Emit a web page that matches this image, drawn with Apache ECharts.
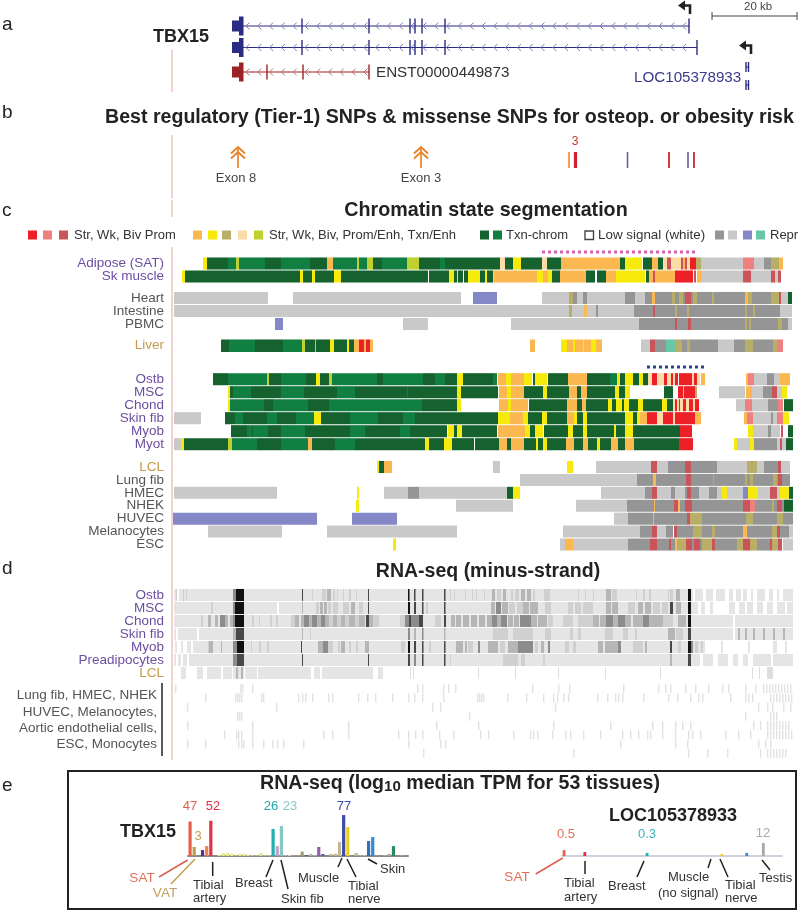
<!DOCTYPE html>
<html>
<head>
<meta charset="utf-8">
<script src="https://cdn.jsdelivr.net/npm/echarts@6/dist/echarts.min.js"></script>
<style>
  html, body { margin: 0; background: #fff; }
  #main { width: 800px; height: 911px; }
</style>
</head>
<body>
<div id="main"></div>
<script>
// positions along the locus are in track units (0 = left edge of the tracks, about 4.25 units per kb)

// chromatin states
const stateColors = {
  S: '#ee2027', W: '#ef8080', B: '#c9555a',
  O: '#fbb850', Y: '#f6ea0a', K: '#b9ae68', L: '#fbdba6', E: '#bfd12f',
  D: '#16622f', G: '#117f41',
  M: '#959595', N: '#c9c9c9', P: '#8488c6', T: '#67c7a8'
};

const adiposeSat = [[30,34,'Y'],[34,55,'D'],[55,63,'G'],[63,66,'E'],[66,92,'G'],[92,108,'D'],[108,137,'G'],[137,154,'D'],[154,160,'O'],[160,184,'G'],[184,186,'E'],[186,194,'G'],[194,200,'E'],[200,209,'D'],[209,234,'G'],[234,246,'E'],[246,267,'D'],[267,272,'G'],[272,327,'D'],[327,332,'L'],[332,340,'D'],[340,348,'Y'],[348,369,'D'],[369,374,'L'],[374,388,'D'],[388,447,'O'],[447,452,'D'],[452,469,'Y'],[470,479,'D'],[479,485,'O'],[485,490,'D'],[490,494,'L'],[494,498,'B'],[498,508,'L'],[508,510,'B'],[510,512,'O'],[512,514,'B'],[514,517,'L'],[517,523,'S'],[523,528,'K'],[528,570,'N'],[570,581,'W'],[581,591,'N'],[591,598,'M'],[598,606,'K'],[606,610,'O']];
const skMuscle = [[9,12,'Y'],[12,127,'D'],[127,130,'Y'],[130,139,'D'],[139,142,'Y'],[142,161,'D'],[161,168,'Y'],[168,255,'D'],[256,276,'D'],[276,281,'Y'],[281,284,'D'],[284,285,'Y'],[285,290,'D'],[291,295,'D'],[295,307,'Y'],[307,312,'D'],[312,314,'Y'],[314,320,'D'],[320,321,'Y'],[321,364,'O'],[364,370,'Y'],[370,375,'O'],[375,379,'Y'],[379,387,'D'],[387,413,'O'],[413,422,'D'],[424,433,'D'],[433,443,'O'],[443,472,'Y'],[473,476,'D'],[476,480,'O'],[480,482,'B'],[482,502,'O'],[502,520,'S'],[521,523,'B'],[524,529,'O'],[529,570,'N'],[570,578,'B'],[578,598,'N'],[598,602,'B'],[602,605,'N'],[605,608,'B']];

const heart = [[1,95,'N'],[120,288,'N'],[300,324,'P'],[369,396,'N'],[396,400,'K'],[400,404,'M'],[404,410,'N'],[410,414,'M'],[414,452,'N'],[452,462,'M'],[462,472,'N'],[472,479,'M'],[479,482,'O'],[482,499,'M'],[499,502,'K'],[502,506,'M'],[506,510,'K'],[510,512,'M'],[512,518,'B'],[518,520,'M'],[520,524,'K'],[524,539,'M'],[539,541,'K'],[541,572,'M'],[572,575,'O'],[575,579,'K'],[579,598,'M'],[598,606,'K'],[606,608,'B'],[608,615,'N'],[615,619,'D']];
const intestine = [[1,396,'N'],[396,399,'K'],[399,411,'N'],[411,414,'O'],[414,423,'N'],[423,425,'M'],[425,461,'N'],[461,480,'M'],[480,482,'B'],[482,502,'M'],[502,504,'K'],[504,514,'M'],[514,516,'K'],[516,572,'M'],[572,574,'K'],[574,580,'M'],[580,582,'K'],[582,607,'M'],[607,619,'N']];
const pbmc = [[102,110,'P'],[230,255,'N'],[338,466,'N'],[466,502,'M'],[502,504,'B'],[504,515,'M'],[515,518,'B'],[518,572,'M'],[572,574,'K'],[574,576,'M'],[576,578,'K'],[578,605,'M'],[605,609,'K'],[609,615,'M'],[615,619,'N']];

const liver = [[48,56,'D'],[56,82,'G'],[82,110,'D'],[110,129,'G'],[129,132,'E'],[132,142,'D'],[142,143,'E'],[143,157,'D'],[157,161,'Y'],[161,174,'D'],[174,176,'Y'],[176,181,'D'],[181,186,'O'],[186,191,'S'],[191,193,'O'],[193,197,'S'],[197,200,'O'],[357,362,'O'],[388,394,'Y'],[394,400,'O'],[400,402,'Y'],[402,410,'O'],[410,411,'Y'],[411,418,'O'],[418,423,'Y'],[423,429,'O'],[468,477,'N'],[477,482,'B'],[482,493,'M'],[493,502,'T'],[502,509,'K'],[509,514,'M'],[514,517,'K'],[517,545,'M'],[545,561,'N'],[561,572,'M'],[572,580,'K'],[580,600,'M'],[600,604,'K'],[604,610,'W']];

const ostb = [[40,55,'D'],[55,94,'G'],[94,96,'E'],[96,108,'D'],[108,133,'G'],[133,143,'D'],[143,147,'Y'],[147,156,'D'],[156,159,'E'],[159,204,'G'],[204,210,'D'],[210,250,'G'],[250,262,'D'],[262,272,'G'],[272,284,'D'],[284,290,'Y'],[290,320,'D'],[320,324,'G'],[325,333,'O'],[333,338,'Y'],[338,351,'O'],[351,359,'Y'],[360,362,'D'],[362,374,'Y'],[375,395,'D'],[395,414,'O'],[414,437,'D'],[437,444,'G'],[444,447,'Y'],[447,452,'D'],[452,460,'Y'],[460,466,'D'],[466,470,'Y'],[470,475,'D'],[475,479,'L'],[479,484,'S'],[484,491,'L'],[491,494,'S'],[494,498,'L'],[498,500,'S'],[500,502,'L'],[502,505,'S'],[506,519,'S'],[519,521,'L'],[521,524,'S'],[524,527,'L'],[528,532,'O'],[573,575,'O'],[575,581,'W'],[581,594,'N'],[594,601,'M'],[601,607,'N'],[607,610,'O'],[610,617,'O']];
const msc = [[55,57,'Y'],[57,60,'D'],[60,78,'G'],[78,108,'D'],[108,131,'G'],[131,164,'D'],[164,182,'G'],[182,234,'D'],[234,235,'G'],[235,284,'D'],[284,288,'Y'],[288,325,'D'],[326,334,'O'],[334,338,'Y'],[338,351,'O'],[351,370,'D'],[370,374,'Y'],[374,396,'D'],[396,404,'O'],[404,408,'D'],[408,414,'O'],[414,442,'D'],[442,446,'Y'],[446,452,'D'],[452,457,'Y'],[491,500,'D'],[505,510,'S'],[510,511,'O'],[511,522,'S'],[522,524,'K'],[546,572,'N'],[573,579,'O'],[579,590,'N'],[590,599,'M'],[599,604,'B'],[604,609,'N'],[609,614,'Y']];
const chond = [[55,57,'Y'],[57,91,'G'],[91,100,'D'],[100,135,'G'],[135,156,'D'],[156,249,'G'],[249,270,'D'],[270,284,'D'],[284,288,'Y'],[326,335,'O'],[335,338,'Y'],[338,355,'O'],[356,394,'D'],[394,404,'O'],[404,409,'D'],[409,413,'O'],[413,435,'D'],[435,439,'Y'],[439,443,'D'],[443,449,'Y'],[449,451,'D'],[451,456,'Y'],[456,465,'D'],[465,470,'Y'],[470,489,'D'],[489,494,'Y'],[494,500,'D'],[500,502,'L'],[502,504,'S'],[504,506,'L'],[506,507,'S'],[507,510,'L'],[510,513,'S'],[513,516,'L'],[516,520,'S'],[520,522,'L'],[522,526,'S'],[563,572,'N'],[572,579,'W'],[579,595,'N'],[595,605,'M'],[605,610,'W'],[611,620,'D']];
const skinFib = [[1,28,'N'],[52,62,'D'],[62,70,'G'],[70,94,'D'],[94,104,'G'],[104,123,'D'],[123,141,'G'],[141,148,'Y'],[148,177,'D'],[177,205,'G'],[205,230,'D'],[230,242,'G'],[242,325,'D'],[325,337,'Y'],[337,350,'O'],[350,355,'Y'],[355,369,'D'],[369,374,'Y'],[374,394,'D'],[394,401,'O'],[401,404,'Y'],[404,410,'D'],[410,414,'Y'],[414,452,'D'],[452,460,'Y'],[460,464,'D'],[464,467,'Y'],[467,474,'O'],[474,484,'S'],[484,490,'L'],[490,500,'S'],[500,502,'L'],[502,522,'S'],[522,528,'O'],[571,574,'O'],[574,580,'W'],[580,598,'N'],[598,600,'M'],[600,604,'N'],[604,610,'W'],[610,616,'Y']];
const myob = [[58,74,'D'],[74,79,'G'],[79,80,'D'],[80,95,'G'],[95,108,'D'],[108,132,'G'],[132,177,'D'],[177,192,'G'],[192,227,'D'],[227,237,'G'],[237,274,'D'],[275,281,'Y'],[281,284,'D'],[284,289,'Y'],[289,324,'D'],[325,352,'O'],[352,357,'Y'],[357,362,'D'],[362,370,'Y'],[371,395,'D'],[395,400,'Y'],[400,410,'D'],[410,414,'Y'],[414,441,'D'],[441,443,'Y'],[443,452,'D'],[452,460,'Y'],[460,507,'D'],[507,519,'S'],[575,580,'Y'],[580,595,'N'],[595,598,'M'],[598,607,'N'],[608,610,'B'],[615,620,'D']];
const myot = [[1,8,'N'],[8,11,'Y'],[11,55,'D'],[55,59,'E'],[59,84,'G'],[84,108,'D'],[108,135,'G'],[135,139,'O'],[139,162,'D'],[162,182,'G'],[182,252,'D'],[252,256,'Y'],[256,271,'D'],[271,279,'Y'],[279,301,'D'],[302,326,'D'],[326,334,'O'],[334,338,'D'],[338,351,'O'],[351,354,'D'],[354,363,'D'],[363,365,'Y'],[365,370,'D'],[370,374,'Y'],[374,393,'D'],[393,401,'O'],[401,410,'D'],[410,415,'O'],[415,424,'D'],[424,427,'Y'],[427,438,'D'],[438,445,'O'],[445,452,'D'],[452,461,'O'],[461,506,'D'],[506,520,'S'],[561,564,'Y'],[564,577,'N'],[577,581,'Y'],[581,595,'M'],[595,604,'M'],[604,607,'N'],[607,609,'B'],[609,613,'N'],[613,620,'D']];

const lcl = [[204,206,'Y'],[206,211,'D'],[211,219,'O'],[320,327,'N'],[394,400,'Y'],[423,478,'N'],[478,484,'B'],[484,495,'N'],[495,512,'M'],[512,518,'B'],[518,544,'M'],[544,574,'N'],[574,584,'K'],[584,591,'N'],[591,605,'M'],[605,608,'B'],[608,617,'N']];
const lungFib = [[347,464,'N'],[464,480,'M'],[480,483,'O'],[483,513,'M'],[513,518,'B'],[518,540,'M'],[540,541,'K'],[541,572,'M'],[572,574,'K'],[574,577,'M'],[577,580,'K'],[580,600,'M'],[600,604,'K'],[604,605,'M'],[605,609,'B'],[609,617,'M']];
const hmec = [[1,104,'N'],[184,186,'Y'],[211,235,'N'],[235,246,'M'],[246,334,'N'],[334,340,'D'],[340,347,'Y'],[428,472,'N'],[472,479,'M'],[479,484,'B'],[484,498,'N'],[498,502,'M'],[502,512,'N'],[512,514,'M'],[514,518,'B'],[518,526,'M'],[526,536,'N'],[536,544,'M'],[544,549,'N'],[549,554,'Y'],[554,570,'N'],[570,575,'P'],[575,585,'Y'],[585,597,'N'],[597,604,'B'],[604,607,'N'],[607,616,'Y'],[616,620,'D']];
const nhek = [[183,186,'Y'],[283,340,'N'],[403,454,'N'],[454,481,'M'],[481,482,'O'],[482,501,'M'],[501,505,'B'],[505,507,'O'],[507,512,'M'],[512,519,'B'],[519,570,'M'],[570,577,'B'],[577,582,'W'],[582,599,'M'],[599,601,'K'],[601,604,'M'],[604,609,'B'],[609,611,'M'],[611,620,'D']];
const huvec = [[0,144,'P'],[179,224,'P'],[441,455,'N'],[455,480,'M'],[480,481,'O'],[481,514,'M'],[514,517,'B'],[517,529,'K'],[529,573,'M'],[573,580,'K'],[580,604,'M'],[604,610,'K'],[610,620,'M']];
const melanocytes = [[35,109,'N'],[154,284,'N'],[390,467,'N'],[467,479,'M'],[479,484,'B'],[484,485,'N'],[485,493,'N'],[493,500,'M'],[501,504,'B'],[504,520,'M'],[520,529,'K'],[529,539,'M'],[539,542,'K'],[542,570,'M'],[570,574,'O'],[574,599,'M'],[599,604,'K'],[604,607,'B'],[607,616,'M'],[616,620,'N']];
const esc = [[220,223,'Y'],[387,392,'N'],[392,400,'O'],[400,455,'N'],[455,477,'M'],[477,484,'B'],[484,496,'M'],[496,498,'B'],[498,502,'M'],[502,504,'O'],[504,513,'K'],[513,519,'B'],[519,521,'M'],[521,527,'B'],[527,529,'M'],[529,539,'K'],[539,542,'B'],[542,564,'M'],[564,570,'K'],[570,577,'B'],[577,584,'K'],[584,597,'M'],[597,599,'B'],[599,605,'K'],[605,609,'B'],[610,620,'N']];

// chromatin track groups, top to bottom
const muscleFatLabels = ['Adipose (SAT)', 'Sk muscle'];
const muscleFatRows = [adiposeSat, skMuscle];
const organLabels = ['Heart', 'Intestine', 'PBMC'];
const organRows = [heart, intestine, pbmc];
const liverLabels = ['Liver'];
const liverRows = [liver];
const mesenLabels = ['Ostb', 'MSC', 'Chond', 'Skin fib', 'Myob', 'Myot'];
const mesenRows = [ostb, msc, chond, skinFib, myob, myot];
const otherLabels = ['LCL', 'Lung fib', 'HMEC', 'NHEK', 'HUVEC', 'Melanocytes', 'ESC'];
const otherRows = [lcl, lungFib, hmec, nhek, huvec, melanocytes, esc];

// RNA-seq: signal bands as [start, end], peaks as [start, end, level]
const rnaShades = { a: '#dedede', b: '#d0d0d0', c: '#b6b6b6', d: '#8c8c8c', e: '#484848', f: '#111111' };
const rnaBase = '#e5e5e5';

const rnaOstbBands = [[1,4],[6,520],[522,530],[533,540],[543,552],[556,560],[563,568],[570,574],[578,580],[584,592],[596,600],[604,606],[610,620]];
const rnaOstbPeaks = [[3,4,'b'],[10,11,'b'],[13,14,'b'],[60,63,'d'],[63,71,'f'],[129,130,'e'],[139,140,'b'],[149,153,'b'],[154,158,'c'],[160,162,'b'],[164,165,'b'],[170,171,'b'],[176,178,'b'],[183,184,'b'],[195,196,'e'],[235,236.5,'f'],[241,242.5,'e'],[249,250.5,'e'],[271,272.5,'e'],[277,278,'b'],[281,282,'b'],[292,293,'b'],[299,300,'b'],[303,304,'b'],[311,312,'b'],[319,322,'c'],[324,328,'b'],[330,333,'c'],[338,340,'b'],[342,346,'b'],[348,352,'c'],[354,358,'c'],[360,362,'b'],[371,377,'b'],[405,406,'b'],[412,413,'b'],[420,421,'b'],[433,438,'c'],[439,444,'b'],[463,464,'b'],[470,472,'b'],[476,478,'b'],[495,496,'b'],[497,500,'b'],[503,507,'c'],[515,518,'f']];
const rnaMscBands = [[1,104],[106,525],[528,532],[537,540],[556,562],[566,572],[574,580],[584,590],[594,600],[604,612],[614,620]];
const rnaMscPeaks = [[38,40,'b'],[60,62,'d'],[62,71,'f'],[129,130,'c'],[143,146,'b'],[147,150,'c'],[151,154,'c'],[155,158,'b'],[160,165,'b'],[170,176,'b'],[178,182,'c'],[186,190,'b'],[195,196,'e'],[235,237,'f'],[241,243,'e'],[249,250.5,'e'],[253,255,'b'],[271,272.5,'e'],[318,322,'c'],[323,328,'d'],[329,335,'c'],[336,342,'b'],[344,350,'b'],[350,356,'c'],[357,365,'c'],[372,378,'b'],[395,400,'b'],[402,408,'b'],[410,420,'b'],[433,438,'c'],[439,445,'c'],[455,462,'b'],[465,470,'c'],[472,478,'c'],[480,487,'b'],[489,495,'b'],[497,500,'e'],[503,508,'c'],[515,518,'f']];
const rnaChondBands = [[1,560],[562,620]];
const rnaChondPeaks = [[28,30,'b'],[35,38,'c'],[42,45,'c'],[47,52,'d'],[52,55,'c'],[57,60,'c'],[60,62,'d'],[62,71,'f'],[79,81,'b'],[86,87,'b'],[97,99,'b'],[103,105,'b'],[118,122,'b'],[122,126,'c'],[128,131,'c'],[131,136,'d'],[136,139,'c'],[139,144,'d'],[144,148,'c'],[148,152,'d'],[152,156,'c'],[156,160,'b'],[160,164,'c'],[164,168,'b'],[168,172,'c'],[172,176,'b'],[176,182,'c'],[182,186,'b'],[186,192,'c'],[193,196,'e'],[196,200,'c'],[200,206,'b'],[227,232,'b'],[232,236,'d'],[236,238,'e'],[238,246,'d'],[246,250,'e'],[262,268,'b'],[271,273,'e'],[278,282,'c'],[283,288,'c'],[290,296,'c'],[298,304,'c'],[306,312,'c'],[314,319,'c'],[319,324,'d'],[324,328,'c'],[328,334,'d'],[335,340,'c'],[341,346,'c'],[347,358,'d'],[358,364,'c'],[365,374,'c'],[375,380,'b'],[390,400,'b'],[405,420,'b'],[420,426,'c'],[427,433,'c'],[433,440,'d'],[440,445,'c'],[445,452,'d'],[452,458,'c'],[460,470,'c'],[470,476,'d'],[476,480,'c'],[480,490,'c'],[490,500,'b'],[505,513,'c'],[515,518,'f']];
const rnaSkinFibBands = [[1,3],[5,24],[26,560],[562,620]];
const rnaSkinFibPeaks = [[60,63,'c'],[63,71,'e'],[129,130,'c'],[137,138,'b'],[235,237,'d'],[241,243,'c'],[249,250.5,'d'],[271,272.5,'c'],[320,335,'b'],[340,360,'b'],[372,378,'b'],[397,400,'b'],[405,408,'b'],[432,440,'b'],[450,455,'b'],[462,464,'b'],[495,502,'c'],[503,510,'b'],[515,518,'e'],[565,567,'c'],[572,574,'c'],[580,582,'c'],[590,592,'c'],[600,602,'c'],[610,612,'c']];
const rnaMyobBands = [[2,4],[8,10],[14,18],[20,532],[548,550],[575,577],[600,604],[612,614]];
const rnaMyobPeaks = [[35,36,'b'],[36,40,'c'],[48,49,'c'],[60,64,'d'],[64,71,'f'],[78,79,'b'],[86,88,'b'],[94,96,'b'],[128,129,'e'],[145,150,'c'],[150,155,'d'],[155,160,'b'],[165,167,'b'],[168,172,'c'],[176,178,'b'],[183,185,'b'],[192,196,'c'],[228,232,'b'],[235,237,'f'],[241,243,'e'],[249,250.5,'e'],[256,258,'b'],[271,272.5,'e'],[283,290,'c'],[292,294,'c'],[295,300,'b'],[305,307,'d'],[315,325,'c'],[327,332,'b'],[335,345,'c'],[345,360,'d'],[362,365,'b'],[368,371,'c'],[375,377,'d'],[392,396,'b'],[400,403,'b'],[425,430,'c'],[432,445,'c'],[445,448,'d'],[460,470,'b'],[472,474,'c'],[497,499,'e'],[505,508,'b'],[515,518,'f'],[518,520,'d'],[522,525,'b'],[528,530,'b']];
const rnaPreadipBands = [[1,3],[5,8],[10,14],[16,527],[530,540],[545,555],[560,565],[570,575],[580,598],[600,620]];
const rnaPreadipPeaks = [[60,64,'d'],[64,71,'e'],[129,130,'e'],[195,196,'e'],[235,237,'e'],[241,243,'d'],[249,250.5,'e'],[271,272.5,'e'],[277,278,'b'],[330,345,'b'],[348,352,'b'],[370,372,'b'],[497,499,'c'],[515,518,'e']];
const rnaLclBands = [[8,13],[24,30],[34,48],[50,59],[60,71],[72,84],[85,138],[141,147],[149,200],[205,210]];
const rnaLclPeaks = [[63,65,'c'],[68,70,'c'],[237,238,'a'],[240,241,'a'],[305,306,'a'],[342,343,'a'],[385,386,'a'],[432,433,'a'],[487,488,'a'],[579,580,'a'],[586,587,'a'],[594,600,'a']];

const rnaLabels = ['Ostb', 'MSC', 'Chond', 'Skin fib', 'Myob', 'Preadipocytes', 'LCL'];
const rnaBands = [rnaOstbBands, rnaMscBands, rnaChondBands, rnaSkinFibBands, rnaMyobBands, rnaPreadipBands, rnaLclBands];
const rnaPeaks = [rnaOstbPeaks, rnaMscPeaks, rnaChondPeaks, rnaSkinFibPeaks, rnaMyobPeaks, rnaPreadipPeaks, rnaLclPeaks];

// cell types with almost no signal, faint peak positions per row
const lowLabels = ['Lung fib', 'HMEC', 'NHEK', 'HUVEC', 'Melanocytes', 'Aortic endothelial cells', 'ESC', 'Monocytes'];
const lowPeaks = [
  [2,67,69,79,244,249,270,275,282,359,385,396,450,485,492,497,512,522,535,549,555,572,582,590,593,596,599,602,605,608,611,614,617],
  [32,62,64,66,68,88,90,125,129,132,139,155,159,185,194,202,219,235,241,249,270,304,306,308,310,334,353,370,380,384,390,395,424,434,442,445,449,470,495,504,517,525,529,557,572,575,579,597,600,603,606,609,612,615,618],
  [14,103,259,267,382,585,594,599,610,617],
  [64,66,68,296,572,597,600,603],
  [14,79,175,263,305,380,437,479,489,502,509,517,580,587,594,597,600,603,606,609,612,615],
  [51,63,65,68,79,150,159,175,225,235,242,249,266,280,307,315,340,357,360,364,379,392,397,410,427,449,457,465,474,477,489,502,515,519,527,552,565,577,594,597,600,603,606,609,612,615,618],
  [14,32,65,68,70,79,90,99,104,110,130,235,267,272,447,502,514,585,592,597],
  [250,400,515,534,554,587,594,597,600,603,606,609,612]
];

// GTEx tissues, log10 median TPM
const tissues = ['Adipose - Subcutaneous','Adipose - Visceral','Adrenal Gland','Artery - Aorta','Artery - Coronary','Artery - Tibial','Bladder','Brain - Amygdala','Brain - Anterior cingulate','Brain - Caudate','Brain - Cerebellar Hemisphere','Brain - Cerebellum','Brain - Cortex','Brain - Frontal Cortex','Brain - Hippocampus','Brain - Hypothalamus','Brain - Nucleus accumbens','Brain - Putamen','Brain - Spinal cord','Brain - Substantia nigra','Breast','Cells - EBV lymphocytes','Cells - Skin fibroblasts','Cervix - Ectocervix','Cervix - Endocervix','Colon - Sigmoid','Colon - Transverse','Esophagus - GE Junction','Esophagus - Mucosa','Esophagus - Muscularis','Fallopian Tube','Heart - Atrial','Heart - Ventricle','Kidney - Cortex','Liver','Lung','Salivary Gland','Muscle - Skeletal','Nerve - Tibial','Ovary','Pancreas','Pituitary','Prostate','Skin - Not sun exposed','Skin - Sun exposed','Small Intestine','Spleen','Stomach','Testis','Thyroid','Uterus','Vagina','Whole Blood'];
const tissueColors = ['#e8604c','#b8a050','#9ab04e','#5a2d8c','#f08050','#e0304a','#c8c8c8','#e6e68c','#e6e68c','#e6e68c','#e6e68c','#e6e68c','#e6e68c','#e6e68c','#e6e68c','#e6e68c','#e6e68c','#e6e68c','#e6e68c','#e6e68c','#20b0b0','#c8a0c8','#88c8c0','#e8c8c8','#e8c8c8','#c0a888','#c0a888','#a89878','#444466','#b8b090','#d0c0c0','#9060a8','#6060a0','#d0c8a0','#c0b890','#c0b890','#c0b890','#3f4aa8','#e8d020','#e0c0d0','#c8b890','#b0d080','#d8d0b0','#3070b8','#3a88c8','#b0b0a0','#b8b080','#d0d0a0','#a8a8a8','#2a8a60','#f0b0c0','#f0b0c0','#e080b0'];
const tbx15Tpm = [1.57,0.41,0,0.27,0.45,1.6,0,0.05,0.13,0.13,0.1,0.03,0.1,0.1,0.06,0.03,0.03,0.13,0.03,0.03,1.23,0.45,1.36,0.03,0.05,0.03,0.03,0.2,0.03,0.09,0.03,0.41,0.09,0,0.09,0.1,0.64,1.86,1.32,0,0.14,0.03,0.03,0.68,0.86,0.02,0,0.02,0.09,0.45,0,0.02,0];
const locTpm = [0.27,0,0,0,0,0.18,0,0,0,0,0,0,0,0,0,0,0,0,0,0,0.14,0,0,0,0,0,0,0,0,0,0,0,0,0,0,0,0,0,0.09,0,0,0,0.05,0,0.14,0,0,0,0.59,0,0,0,0];

// gene models on the locus axis: row is the track height on the overlay axis
const geneModels = [
  { start: 59, end: 516, row: 26, color: '#2c2b84', chevron: '#7d7bb4', exons: [129, 196, 237, 242, 249, 272, 516] },
  { start: 59, end: 524, row: 47.5, color: '#2c2b84', chevron: '#7d7bb4', exons: [129, 196, 237, 242, 249, 272, 524] },
  { start: 59, end: 196, row: 72, color: '#9b2226', chevron: '#c46a6a', exons: [94, 130, 196] },
  { start: 573, end: 575.5, row: 67, color: '#2c2b84', exons: [573, 575.5], noUtr: true },
  { start: 573, end: 575.5, row: 85, color: '#2c2b84', exons: [573, 575.5], noUtr: true },
  { start: 539, end: 624, row: 16, color: '#444444', exons: [539, 624], noUtr: true, thin: true }
];
const tssArrows = [[517, 14], [578, 54]];
const exonArrows = [[65, 'Exon 8'], [248, 'Exon 3']];
const snpBars = [[396, '#f0882c', 1.6], [402.5, '#cf2230', 3.2], [454.5, '#6a5aa8', 1.6], [496, '#c8282c', 1.8], [515, '#6a5aa8', 1.6], [521, '#c8282c', 1.8]];
const guideSpans = [[50, 92], [135, 198], [200, 217], [247, 760]];
const sourceDots = [[369, 252], [522, 252]];
const ostbDots = [[474, 367], [532, 367]];

// free text: text, x, y, colour, size, bold, align
const purple = '#6b4fa0', grey = '#555555', gold = '#c49a4a', ink = '#222222';
const notes = [
  ['a', 2, 25, ink, 19], ['b', 2, 113, ink, 19], ['c', 2, 211, ink, 19], ['d', 2, 569, ink, 19], ['e', 2, 786, ink, 19],
  ['TBX15', 153, 37, ink, 18, true],
  ['ENST00000449873', 376, 73, '#333', 15.2],
  ['LOC105378933', 634, 78, '#3a3a8c', 15.2],
  ['20 kb', 744, 7, '#444', 11.5],
  ['Best regulatory (Tier-1) SNPs & missense SNPs for osteop. or obesity risk', 105, 118, ink, 19.6, true],
  ['3', 575, 142, '#c0392b', 12, false, 'center'],
  ['Exon 8', 236, 178, '#444', 13, false, 'center'],
  ['Exon 3', 421, 178, '#444', 13, false, 'center'],
  ['Chromatin state segmentation', 486, 211, ink, 19.7, true, 'center'],
  ['Str, Wk, Biv Prom', 74, 235, '#333', 13],
  ['Str, Wk, Biv, Prom/Enh, Txn/Enh', 269, 235, '#333', 13],
  ['Txn-chrom', 506, 235, '#333', 13],
  ['Low signal (white)', 598, 235, '#333', 13.4],
  ['Repr', 770, 235, '#333', 13],
  ['RNA-seq (minus-strand)', 488, 572, ink, 19.5, true, 'center'],
  ['Lung fib, HMEC, NHEK', 157, 695, grey, 13.5, false, 'right'],
  ['HUVEC, Melanocytes,', 157, 712, grey, 13.5, false, 'right'],
  ['Aortic endothelial cells,', 157, 728, grey, 13.5, false, 'right'],
  ['ESC, Monocytes', 157, 744, grey, 13.5, false, 'right'],
  ['TBX15', 120, 832, ink, 18, true],
  ['47', 190, 806, '#e0604c', 13, false, 'center'],
  ['3', 198, 836, '#c0a050', 13, false, 'center'],
  ['52', 213, 806, '#e03040', 13, false, 'center'],
  ['26', 271, 806, '#20a8a8', 13, false, 'center'],
  ['23', 290, 806, '#88c8c0', 13, false, 'center'],
  ['77', 344, 806, '#3a4aa8', 13, false, 'center'],
  ['SAT', 142, 878, '#e0705a', 13.5, false, 'center'],
  ['VAT', 165, 893, '#c0a060', 13.5, false, 'center'],
  ['Tibial', 193, 885, '#333', 13], ['artery', 193, 898, '#333', 13],
  ['Breast', 235, 883, '#333', 13], ['Skin fib', 281, 899, '#333', 13],
  ['Muscle', 298, 878, '#333', 13], ['Tibial', 348, 886, '#333', 13], ['nerve', 348, 899, '#333', 13],
  ['Skin', 380, 869, '#333', 13],
  ['LOC105378933', 673, 816, ink, 18, true, 'center'],
  ['0.5', 566, 834, '#e0705a', 13, false, 'center'],
  ['0.3', 647, 834, '#40b0b8', 13, false, 'center'],
  ['12', 763, 833, '#a8a8a8', 13, false, 'center'],
  ['SAT', 517, 877, '#e0705a', 13.5, false, 'center'],
  ['Tibial', 564, 883, '#333', 13], ['artery', 564, 897, '#333', 13],
  ['Breast', 608, 886, '#333', 13],
  ['Muscle', 668, 877, '#333', 13], ['(no signal)', 658, 893, '#333', 13],
  ['Tibial', 725, 885, '#333', 13], ['nerve', 725, 898, '#333', 13],
  ['Testis', 759, 878, '#333', 13]
];
// pointer lines from the bars to their captions
const leaders = [
  [187.7,860,159,877,'#d9604c'], [195,859,171,884,'#c0a050'], [212.7,862,212.7,876,'#222'],
  [273,860,266,877,'#222'], [281,860,288,889,'#222'], [342,858,338,867,'#222'], [347,859,356,877,'#222'], [368,859,377,864,'#222'],
  [562.7,858,535.7,874,'#d9604c'], [585,861,585,874,'#222'], [644,861,637,877,'#222'], [711,859,708,868,'#222'], [720,859,728,877,'#222'], [762,860,770,870,'#222'],
  [162,683,162,756,'#222']
];
const legendSwatches = [
  [28,'S'],[43,'W'],[59,'B'],[193,'O'],[208,'Y'],[222,'K'],[238,'L'],[254,'E'],[480,'D'],[493,'G'],[715,'M'],[728,'N'],[743,'P'],[756,'T']
];

const chart = echarts.init(document.getElementById('main'));
const fontFamily = '"Liberation Sans", Arial, sans-serif';

function segmentSeries(items, gridIndex, name) {
  return {
    type: 'custom', name: name, xAxisIndex: gridIndex, yAxisIndex: gridIndex,
    encode: { x: [0, 1], y: 2 }, silent: true, animation: false,
    data: items.map(d => [d[0], d[1], d[2]]),
    renderItem: (params, api) => {
      const a = api.coord([api.value(0), api.value(2)]);
      const b = api.coord([api.value(1), api.value(2)]);
      const h = api.size([0, 1])[1] * 0.93;
      return { type: 'rect', shape: { x: a[0], y: a[1] - h / 2, width: b[0] - a[0], height: h },
               style: { fill: items[params.dataIndex][3] } };
    }
  };
}
const chromatinItems = rows => rows.flatMap((row, i) => row.map(s => [s[0], s[1], i, stateColors[s[2]]]));

const rnaItems = rnaBands.flatMap((bands, i) => bands.map(b => [b[0], b[1], i, rnaBase]))
  .concat(rnaPeaks.flatMap((peaks, i) => peaks.map(p => [p[0], p[1], i, rnaShades[p[2]]])));
const lowItems = lowPeaks.flatMap((row, i) => row.map(p => [p, p + 1.4, i, '#e2e2e2']));

// category rows share the locus x scale; lift moves the labels up a little as in the figure
const trackGrids = [
  { top: 257, height: 26, labels: muscleFatLabels, lift: 3, colors: [purple, purple] },
  { top: 291.5, height: 39, labels: organLabels, lift: 3, colors: [grey, grey, grey] },
  { top: 339, height: 13.5, labels: liverLabels, lift: 0, colors: [gold] },
  { top: 372.7, height: 78, labels: mesenLabels, lift: 1, colors: mesenLabels.map(() => purple) },
  { top: 460.5, height: 90.5, labels: otherLabels, lift: 2, colors: [gold].concat(otherLabels.slice(1).map(() => grey)) },
  { top: 588.5, height: 91, labels: rnaLabels, lift: 1, colors: rnaLabels.map((l, i) => i === 6 ? gold : purple) },
  { top: 684, height: 74, labels: lowLabels, hideLabels: true, colors: [] }
];

const grids = [{ left: 170, right: 0, top: 0, bottom: 0 }];
const xAxes = [{ gridIndex: 0, type: 'value', min: -3, max: 627, show: false }];
const yAxes = [{ gridIndex: 0, type: 'value', min: 0, max: 911, inverse: true, show: false }];

trackGrids.forEach((t, i) => {
  grids.push({ left: 170, right: 0, top: t.top, height: t.height });
  xAxes.push({ gridIndex: i + 1, type: 'value', min: -3, max: 627, show: false });
  yAxes.push({
    gridIndex: i + 1, type: 'category', inverse: true, data: t.labels,
    axisLine: { show: false }, axisTick: { show: false },
    axisLabel: {
      show: !t.hideLabels, interval: 0, margin: 6, fontSize: 13.5, fontFamily: fontFamily,
      padding: [0, 0, (t.lift || 0) * 2, 0],
      color: (v, idx) => t.colors[idx] || grey
    }
  });
});

// expression bars share one tissue axis each, the log scale is fixed at 22 px per unit
function barGrid(left, axisColor) {
  const i = grids.length;
  grids.push({ left: left, width: 220, top: 812, height: 44 });
  xAxes.push({ gridIndex: i, type: 'category', data: tissues,
    axisLine: { lineStyle: { color: axisColor, width: 2 } }, axisTick: { show: false }, axisLabel: { show: false } });
  yAxes.push({ gridIndex: i, type: 'value', min: 0, max: 2, show: false });
  return i;
}
const tbxGrid = barGrid(188, '#8a8a8a');
const locGrid = barGrid(562, '#cdd2dc');
const barSeries = (values, g, width) => ({
  type: 'bar', xAxisIndex: g, yAxisIndex: g, barWidth: width, silent: true,
  data: values.map((v, i) => ({ value: v, itemStyle: { color: tissueColors[i] } }))
});

const geneSeries = {
  type: 'custom', xAxisIndex: 0, yAxisIndex: 0, silent: true,
  data: geneModels.map(g => [g.start, g.row]),
  renderItem: (params, api) => {
    const g = geneModels[params.dataIndex];
    const pt = x => api.coord([x, g.row]);
    const a = pt(g.start), b = pt(g.end), y = a[1];
    const kids = [{ type: 'line', shape: { x1: a[0], y1: y, x2: b[0], y2: y }, style: { stroke: g.color, lineWidth: 1.2 } }];
    if (g.chevron) {
      for (let x = a[0] + 14; x < b[0] - 3; x += 11.8) {
        kids.push({ type: 'polyline', shape: { points: [[x + 3.5, y - 3.5], [x, y], [x + 3.5, y + 3.5]] },
                    style: { stroke: g.chevron, lineWidth: 1, fill: 'none' } });
      }
    }
    g.exons.forEach(e => {
      const p = pt(e), half = g.thin ? 4 : (g.noUtr ? 5 : 7.5);
      kids.push({ type: 'line', shape: { x1: p[0], y1: y - half, x2: p[0], y2: y + half },
                  style: { stroke: g.color, lineWidth: g.thin ? 1 : 1.4 } });
    });
    if (!g.noUtr) {
      kids.push({ type: 'rect', shape: { x: a[0], y: y - 5.5, width: 7, height: 11 }, style: { fill: g.color } });
      kids.push({ type: 'rect', shape: { x: a[0] + 7, y: y - 9.5, width: 4.5, height: 19 }, style: { fill: g.color } });
    }
    return { type: 'group', children: kids };
  }
};

const tssSeries = {
  type: 'custom', xAxisIndex: 0, yAxisIndex: 0, silent: true, data: tssArrows,
  renderItem: (params, api) => {
    const p = api.coord([api.value(0), api.value(1)]);
    return { type: 'group', children: [
      { type: 'polyline', shape: { points: [[p[0], p[1]], [p[0], p[1] - 8.5], [p[0] - 6, p[1] - 8.5]] },
        style: { stroke: '#222', lineWidth: 2.6, fill: 'none' } },
      { type: 'polygon', shape: { points: [[p[0] - 12, p[1] - 8.5], [p[0] - 5, p[1] - 13.5], [p[0] - 5, p[1] - 3.5]] },
        style: { fill: '#222' } }
    ] };
  }
};

const exonArrowSeries = {
  type: 'custom', xAxisIndex: 0, yAxisIndex: 0, silent: true,
  data: exonArrows.map(e => [e[0], 168]),
  renderItem: (params, api) => {
    const p = api.coord([api.value(0), api.value(1)]);
    const orange = '#e8842c';
    const head = dy => ({ type: 'polyline', shape: { points: [[p[0] - 7, p[1] - dy + 6.5], [p[0], p[1] - dy], [p[0] + 7, p[1] - dy + 6.5]] },
                          style: { stroke: orange, lineWidth: 1.9, fill: 'none' } });
    return { type: 'group', children: [
      { type: 'line', shape: { x1: p[0], y1: p[1], x2: p[0], y2: p[1] - 20 }, style: { stroke: orange, lineWidth: 1.7 } },
      head(21), head(16)
    ] };
  }
};

const snpSeries = {
  type: 'custom', xAxisIndex: 0, yAxisIndex: 0, silent: true,
  data: snpBars.map(s => [s[0], 152, 168]),
  renderItem: (params, api) => {
    const a = api.coord([api.value(0), api.value(1)]), b = api.coord([api.value(0), api.value(2)]);
    const s = snpBars[params.dataIndex];
    return { type: 'line', shape: { x1: a[0], y1: a[1], x2: b[0], y2: b[1] }, style: { stroke: s[1], lineWidth: s[2] } };
  }
};

const guideSeries = {
  type: 'custom', xAxisIndex: 0, yAxisIndex: 0, silent: true,
  data: guideSpans.map(s => [-1, s[0], s[1]]),
  renderItem: (params, api) => {
    const a = api.coord([api.value(0), api.value(1)]), b = api.coord([api.value(0), api.value(2)]);
    return { type: 'line', shape: { x1: a[0], y1: a[1], x2: b[0], y2: b[1] }, style: { stroke: '#f3c6c4', lineWidth: 1.6 } };
  }
};

const dotLine = (data, color) => ({
  type: 'line', xAxisIndex: 0, yAxisIndex: 0, data: data, symbol: 'none', silent: true,
  lineStyle: { color: color, width: 3, type: [3, 3] }
});

const graphic = [];
notes.forEach(n => graphic.push({
  type: 'text', x: n[1], y: n[2], silent: true,
  style: { text: n[0], fill: n[3], textAlign: n[6] || 'left', textVerticalAlign: 'middle',
           font: (n[5] ? 'bold ' : '') + n[4] + 'px ' + fontFamily }
}));
leaders.forEach(l => graphic.push({
  type: 'line', silent: true, shape: { x1: l[0], y1: l[1], x2: l[2], y2: l[3] }, style: { stroke: l[4], lineWidth: 1.5 }
}));
legendSwatches.forEach(s => graphic.push({
  type: 'rect', silent: true, shape: { x: s[0], y: 230.5, width: 9, height: 9 }, style: { fill: stateColors[s[1]] }
}));
graphic.push({ type: 'rect', silent: true, shape: { x: 585, y: 231, width: 8.5, height: 8.5 }, style: { fill: '#fff', stroke: '#444', lineWidth: 1.4 } });
graphic.push({ type: 'rect', silent: true, shape: { x: 68, y: 771, width: 728, height: 138 }, style: { fill: 'none', stroke: '#222', lineWidth: 2 } });
graphic.push({
  type: 'text', x: 260, y: 784, silent: true,
  style: {
    text: '{t|RNA-seq (log}{s|10}{t| median TPM for 53 tissues)}', textVerticalAlign: 'middle',
    rich: { t: { font: 'bold 19.6px ' + fontFamily, fill: ink, lineHeight: 20 },
            s: { font: 'bold 15px ' + fontFamily, fill: ink, lineHeight: 20, padding: [5, 0, 0, 0] } }
  }
});

chart.setOption({
  animation: false,
  textStyle: { fontFamily: fontFamily },
  grid: grids, xAxis: xAxes, yAxis: yAxes,
  graphic: graphic,
  series: [
    guideSeries, geneSeries, tssSeries, exonArrowSeries, snpSeries,
    dotLine(sourceDots, '#d465b5'), dotLine(ostbDots, '#2d3f8f'),
    segmentSeries(chromatinItems(muscleFatRows), 1, 'Muscle and fat'),
    segmentSeries(chromatinItems(organRows), 2, 'Organs'),
    segmentSeries(chromatinItems(liverRows), 3, 'Liver'),
    segmentSeries(chromatinItems(mesenRows), 4, 'Mesenchymal'),
    segmentSeries(chromatinItems(otherRows), 5, 'Other'),
    segmentSeries(rnaItems, 6, 'RNA-seq'),
    segmentSeries(lowItems, 7, 'RNA-seq low'),
    barSeries(tbx15Tpm, tbxGrid, 3.2),
    barSeries(locTpm, locGrid, 2.8)
  ]
});
</script>
</body>
</html>
